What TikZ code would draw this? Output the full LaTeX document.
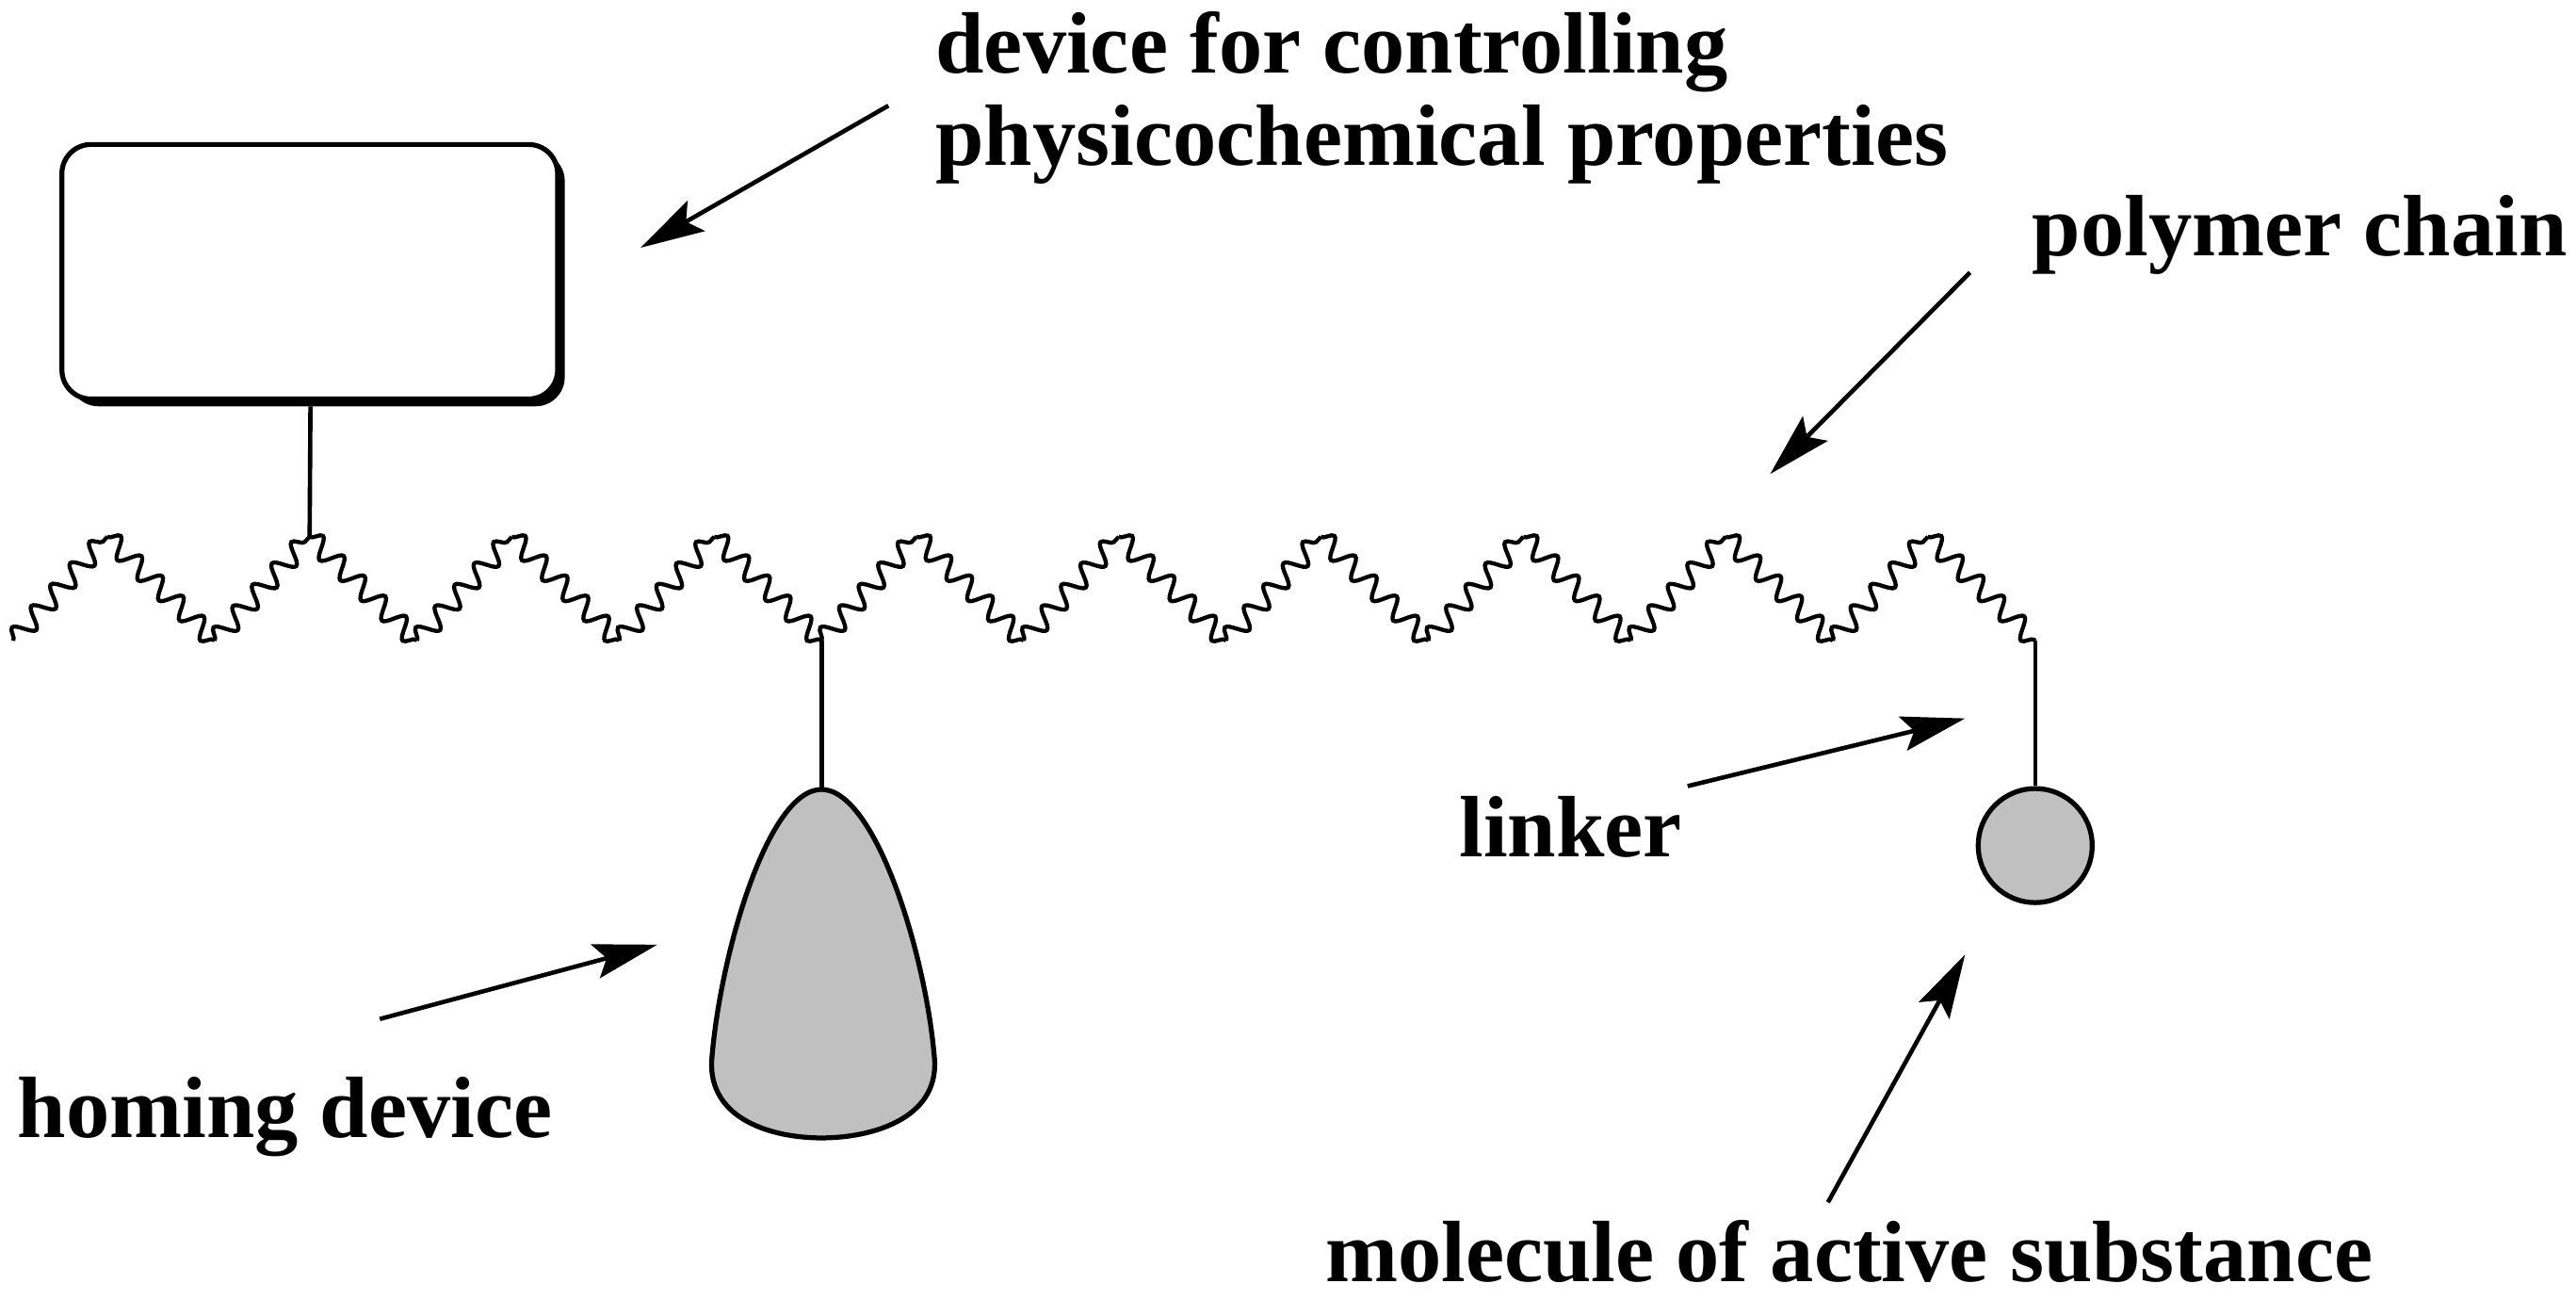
\documentclass[tikz,border=0pt]{standalone}
\usepackage{fontspec}
\setmainfont{Liberation Serif}
\usetikzlibrary{arrows.meta,decorations.pathmorphing}
\begin{document}
\begin{tikzpicture}[x=0.01cm,y=-0.01cm,
  lbl/.style={anchor=base west,inner sep=0pt,font=\fontsize{15}{16}\selectfont\bfseries},
  pointer/.style={line width=0.75pt,-{Stealth[length=11pt,width=6pt,inset=2pt]}},
  chainseg/.style={line width=0.7pt,decorate,decoration={snake,segment length=0.175cm,amplitude=0.06cm}},
  stick/.style={line width=0.75pt},
  greyfill/.style={fill=graybody,draw=black,line width=0.85pt}]
\definecolor{graybody}{RGB}{192,192,192}
\useasboundingbox (0,0) rectangle (1560,786.6);
% box with shadow
\fill[black,rounded corners=5] (42,92) rectangle (342,246);
\node[draw=black,fill=white,line width=0.85pt,rounded corners=5,minimum width=3cm,minimum height=1.54cm,inner sep=0pt,anchor=north west] (box) at (36,86) {};
% chain vertices
\coordinate (c0) at (8,388);
\foreach \k in {0,...,9}{
  \coordinate (p\k) at ({65+122.5*\k},325);
  \coordinate (v\k) at ({130+122.5*\k},388);
}
\draw[chainseg] (c0) -- (p0);
\foreach \k in {0,...,9}{
  \draw[chainseg] (p\k) -- (v\k);
}
\foreach \k [count=\j] in {0,...,8}{
  \draw[chainseg] (v\k) -- (p\j);
}
% box link
\draw[stick] (188,246) -- (p1);
% homing device
\coordinate (htop) at (497.5,478);
\draw[greyfill] (htop) .. controls (465,478) and (436,578) .. (431,642)
  .. controls (429,678) and (468,689) .. (497.5,689)
  .. controls (527,689) and (568,678) .. (566,642)
  .. controls (561,578) and (530,478) .. (htop) -- cycle;
\node[inner sep=0pt,minimum size=0pt] (homing) at (htop) {};
\draw[stick] (v3) -- (homing);
% molecule
\node[circle,greyfill,minimum size=0.69cm,inner sep=0pt] (mol) at (1232.5,512) {};
\draw[stick] (v9) -- (mol.north);
% labels
\node[lbl] (t1) at (566,44) {device for controlling};
\node[lbl] (t1b) at (566,100) {physicochemical properties};
\node[lbl] (t2) at (1230,155) {polymer chain};
\node[lbl] (t3) at (883,519) {linker};
\node[lbl] (t4) at (10,689) {homing device};
\node[lbl] (t5) at (802,776) {molecule of active substance};
% arrows
\coordinate (a1s) at (538,64);  \coordinate (a1e) at (388,150);
\coordinate (a2s) at (1193,165); \coordinate (a2e) at (1072,287);
\coordinate (a3s) at (1022,476); \coordinate (a3e) at (1190,435);
\coordinate (a4s) at (230,617);  \coordinate (a4e) at (398,572);
\coordinate (a5s) at (1107,728); \coordinate (a5e) at (1190,578);
\draw[pointer] (a1s) -- (a1e);
\draw[pointer] (a2s) -- (a2e);
\draw[pointer] (a3s) -- (a3e);
\draw[pointer] (a4s) -- (a4e);
\draw[pointer] (a5s) -- (a5e);
\end{tikzpicture}
\end{document}
